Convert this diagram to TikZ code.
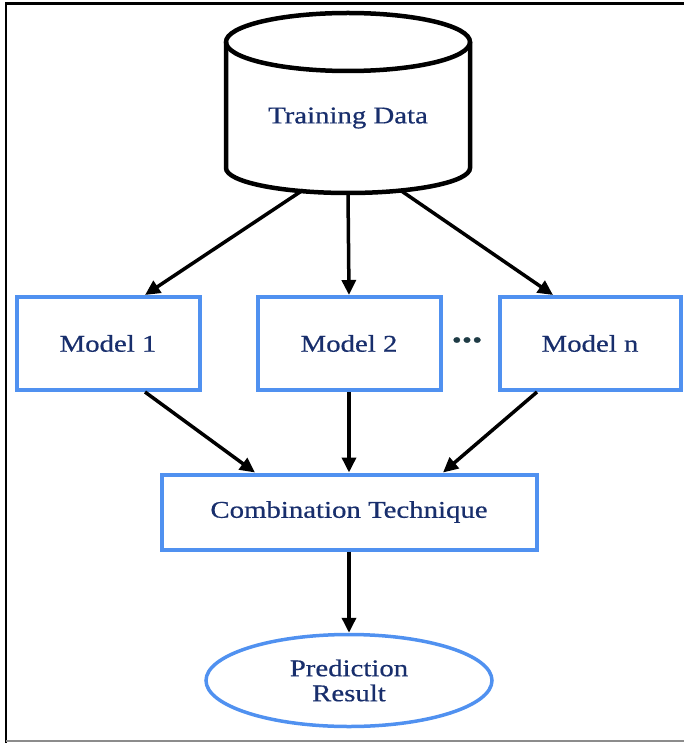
\documentclass[tikz,border=0pt]{standalone}
\usepackage{fontspec}
\setmainfont{Liberation Serif}[FakeStretch=1.2,FakeBold=0.6]
\usetikzlibrary{arrows.meta,shapes.geometric}
\definecolor{boxblue}{RGB}{80,145,240}
\definecolor{labelnavy}{RGB}{24,46,108}
\definecolor{dotteal}{RGB}{30,59,69}
\begin{document}
\begin{tikzpicture}[x=1pt,y=-1pt,
  every node/.style={font=\fontsize{24}{28}\selectfont, text=labelnavy},
  modelbox/.style={draw=boxblue, line width=4pt, rectangle, inner sep=0pt,
    minimum width=183pt, minimum height=93pt},
  flow/.style={line width=3.5pt, draw=black, -{Triangle[length=15pt,width=14pt]}},
  dbline/.style={line width=4.5pt, draw=black}]
  \useasboundingbox (0,0) rectangle (684,743);
  % frame
  \draw[line width=2.5pt, black] (6,743) -- (6,3.5) -- (684,3.5);
  \draw[line width=1.5pt, black!45] (6,741) -- (684,741);

  % training data store (cylinder)
  \draw[dbline] (348,42) ellipse [x radius=122pt, y radius=29pt];
  \draw[dbline] (226,42) -- (226,168)
    arc [start angle=180, end angle=360, x radius=122pt, y radius=25pt]
    -- (470,42);
  \node (data) at (348,118) {Training Data};
  \coordinate (d1) at (303,190);
  \coordinate (d2) at (348,193);
  \coordinate (d3) at (400,190);

  % base models
  \node[modelbox] (m1) at (108,343.5) {Model 1};
  \node[modelbox] (m2) at (349,343.5) {Model 2};
  \node[modelbox, minimum width=181pt] (mn) at (590,343.5) {Model n};
  \node[text=dotteal, font=\fontsize{34}{36}\selectfont\bfseries] (dots) at (467,340) {...};

  % combiner
  \node[modelbox, minimum width=375pt, minimum height=75pt] (comb) at (349,512) {Combination Technique};

  % output
  \node[ellipse, draw=boxblue, line width=3.5pt, inner sep=0pt,
    minimum width=286pt, minimum height=92pt, align=center,
    font=\fontsize{24}{25}\selectfont] (res) at (349,680.5) {Prediction\\Result};

  % connectors
  \draw[flow] (d1) -- (m1.north -| 145,0);
  \draw[flow] (d2) -- (m2.north);
  \draw[flow] (d3) -- (mn.north -| 553,0);
  \draw[flow] (m1.south -| 145,0) -- (comb.north -| 255,0);
  \draw[flow] (m2.south) -- (comb.north);
  \draw[flow] (mn.south -| 537,0) -- (comb.north -| 443,0);
  \draw[flow] (comb.south) -- (res.north);
\end{tikzpicture}
\end{document}
